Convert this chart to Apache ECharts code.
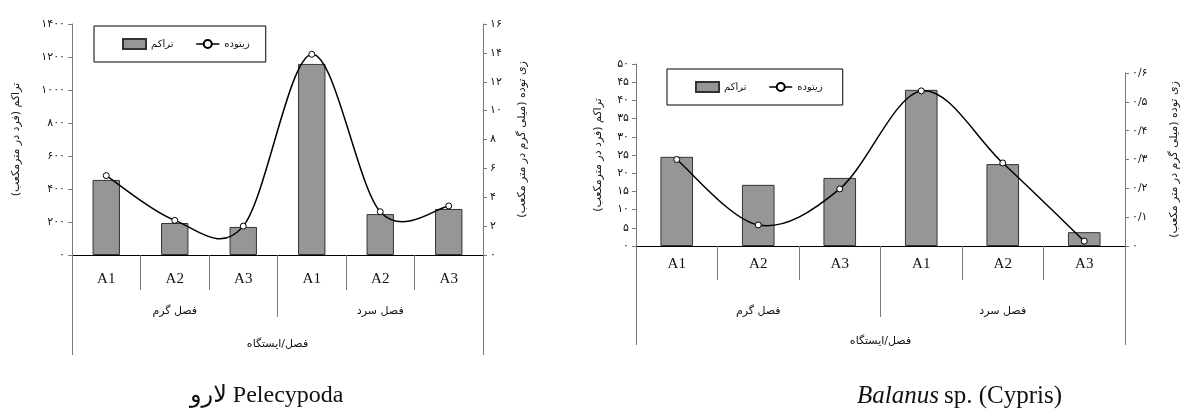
<!DOCTYPE html>
<html>
<head>
<meta charset="utf-8">
<script src="https://cdn.jsdelivr.net/npm/echarts@6/dist/echarts.min.js"></script>
<style>
html,body{margin:0;padding:0;background:#fff;}
#c{width:1190px;height:410px;}
</style>
</head>
<body>
<div id="c"></div>
<script>
// ---- data ----
const categories = ['A1', 'A2', 'A3', 'A1', 'A2', 'A3'];
const seasons = ['فصل گرم', 'فصل سرد'];
const overall = ['فصل/ایستگاه'];
const densityName = 'تراکم';
const biomassName = 'زیتوده';
const densityAxisName = 'تراکم (فرد در مترمکعب)';
const biomassAxisName = 'زی توده (میلی گرم در متر مکعب)';

// Pelecypoda larvae
const pelDensity = [455, 194, 170, 1158, 248, 279];
const pelBiomass = [5.5, 2.4, 2.0, 13.9, 3.0, 3.4];
// Balanus sp. (Cypris)
const balDensity = [24.5, 16.8, 18.7, 42.9, 22.5, 3.8];
const balBiomass = [0.30, 0.073, 0.198, 0.538, 0.288, 0.017];

// ---- helpers ----
const FA = '۰۱۲۳۴۵۶۷۸۹';
function fa(v, d) {
  let s = d ? (+v).toFixed(d) : String(Math.round(v));
  if (d) s = s.replace(/\.?0+$/, '');
  return s.replace(/\d/g, c => FA[c]).replace('.', '/');
}
const PER = "'DejaVu Sans', sans-serif";
const SERIF = "'Liberation Serif', 'DejaVu Serif', serif";
const AX = '#7a7a7a';

function catAxes(gridIndex, tickA, marA, tickS, marS, tickO, marO) {
  return [
    { type: 'category', gridIndex, data: categories, position: 'bottom',
      axisLine: { show: true, lineStyle: { color: '#000', width: 1 } },
      axisTick: { show: true, interval: 0, length: tickA, lineStyle: { color: AX } },
      axisLabel: { interval: 0, margin: marA, fontSize: 15, fontFamily: SERIF, color: '#111' } },
    { type: 'category', gridIndex, data: seasons, position: 'bottom',
      axisLine: { show: false },
      axisTick: { show: true, interval: 0, length: tickS, lineStyle: { color: AX } },
      axisLabel: { interval: 0, margin: marS, fontSize: 11, fontFamily: PER, color: '#111' } },
    { type: 'category', gridIndex, data: overall, position: 'bottom',
      axisLine: { show: false },
      axisTick: { show: true, interval: 0, length: tickO, lineStyle: { color: AX } },
      axisLabel: { interval: 0, margin: marO, fontSize: 11, fontFamily: PER, color: '#111' } }
  ];
}

function valAxis(gridIndex, position, min, max, interval, dec, name, nameGap) {
  return {
    type: 'value', gridIndex, position, min, max, interval,
    name, nameLocation: 'middle', nameRotate: 90, nameGap,
    nameTextStyle: { fontSize: 11, fontFamily: PER, color: '#111' },
    axisLine: { show: true, lineStyle: { color: AX } },
    axisTick: { show: true, length: 4, lineStyle: { color: AX } },
    splitLine: { show: false },
    axisLabel: { fontSize: 11, fontFamily: PER, color: '#111', margin: 7,
      formatter: v => fa(v, dec) }
  };
}

const barStyle = { color: '#969696', borderColor: '#333', borderWidth: 1 };

// symbols of the biomass series (its own line hidden; the curve is drawn below)
function biomassPoints(xIdx, yIdx, data) {
  return {
    name: biomassName, type: 'line', xAxisIndex: xIdx, yAxisIndex: yIdx, data,
    symbol: 'circle', symbolSize: 6,
    lineStyle: { color: '#000', width: 1.5, opacity: 0 },
    itemStyle: { color: '#fff', borderColor: '#000', borderWidth: 1 },
    z: 6
  };
}

// Excel-like smoothed curve through the same values, positioned by the axes
function biomassCurve(xIdx, yIdx, data) {
  return {
    type: 'custom', xAxisIndex: xIdx, yAxisIndex: yIdx, z: 5, silent: true,
    data: data.map((v, i) => [i, v]),
    encode: { x: 0, y: 1 },
    renderItem: function (params, api) {
      if (params.dataIndex !== 0) return null;
      const P = data.map((v, i) => api.coord([i, v]));
      const n = P.length;
      const g = i => P[Math.max(0, Math.min(n - 1, i))];
      let d = 'M' + P[0][0] + ' ' + P[0][1];
      for (let i = 0; i < n - 1; i++) {
        const p0 = g(i - 1), p1 = g(i), p2 = g(i + 1), p3 = g(i + 2);
        const c1 = [p1[0] + (p2[0] - p0[0]) / 6, p1[1] + (p2[1] - p0[1]) / 6];
        const c2 = [p2[0] - (p3[0] - p1[0]) / 6, p2[1] - (p3[1] - p1[1]) / 6];
        d += ' C' + c1[0] + ' ' + c1[1] + ' ' + c2[0] + ' ' + c2[1] + ' ' + p2[0] + ' ' + p2[1];
      }
      return { type: 'path', shape: { pathData: d },
        style: { stroke: '#000', lineWidth: 1.5, fill: null } };
    }
  };
}

function legendAt(left, top, padR) {
  return {
    left, top, orient: 'horizontal',
    borderColor: '#000', borderWidth: 1, padding: [12, padR, 12, 28],
    itemWidth: 23, itemHeight: 10, itemGap: 22,
    textStyle: { fontSize: 10, fontFamily: PER, color: '#111' },
    data: [{ name: densityName, icon: 'rect' },
           { name: biomassName, lineStyle: { opacity: 1, color: '#000', width: 1.5 } }]
  };
}

const chart = echarts.init(document.getElementById('c'));
chart.setOption({
  animation: false,
  backgroundColor: '#fff',
  grid: [
    { left: 72, top: 24, width: 411, height: 231, outerBoundsMode: 'none' },
    { left: 636, top: 64, width: 489, height: 182, outerBoundsMode: 'none' },
    { left: 636, top: 73, width: 489, height: 173, outerBoundsMode: 'none' }
  ],
  xAxis: [
    ...catAxes(0, 35, 17, 62, 51, 100, 84),
    ...catAxes(1, 34, 11, 71, 60, 99, 90),
    { type: 'category', gridIndex: 2, data: categories, show: false }
  ],
  yAxis: [
    valAxis(0, 'left', 0, 1400, 200, 0, densityAxisName, 50),
    valAxis(0, 'right', 0, 16, 2, 0, biomassAxisName, 34),
    valAxis(1, 'left', 0, 50, 5, 0, densityAxisName, 32),
    valAxis(2, 'right', 0, 0.6, 0.1, 1, biomassAxisName, 44)
  ],
  legend: [legendAt(94, 26, 16), legendAt(667, 69, 20)],
  title: [
    { left: 190, top: 384, padding: 0,
      text: 'لارو Pelecypoda',
      textStyle: { fontSize: 24, fontWeight: 'normal', fontFamily: SERIF + ", 'DejaVu Sans'", color: '#111' } },
    { left: 857, top: 384, padding: 0,
      text: '{i|Balanus} {n|sp. (Cypris)}',
      textStyle: { fontWeight: 'normal', rich: {
        i: { fontSize: 25, fontStyle: 'italic', fontWeight: 'normal', fontFamily: SERIF, color: '#111' },
        n: { fontSize: 25, fontWeight: 'normal', fontFamily: SERIF, color: '#111' } } } }
  ],
  series: [
    { name: densityName, type: 'bar', xAxisIndex: 0, yAxisIndex: 0, barWidth: '40%',
      itemStyle: barStyle, data: pelDensity },
    biomassCurve(0, 1, pelBiomass),
    biomassPoints(0, 1, pelBiomass),
    { name: densityName, type: 'bar', xAxisIndex: 3, yAxisIndex: 2, barWidth: '40%',
      itemStyle: barStyle, data: balDensity },
    biomassCurve(6, 3, balBiomass),
    biomassPoints(6, 3, balBiomass)
  ]
});
</script>
</body>
</html>
